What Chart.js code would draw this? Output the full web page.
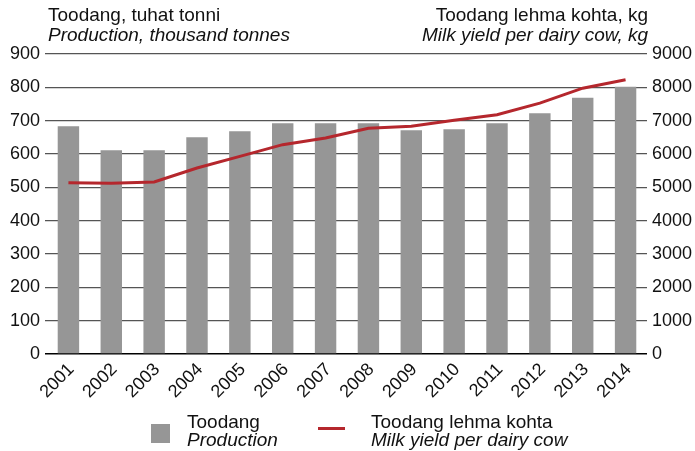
<!DOCTYPE html>
<html><head><meta charset="utf-8">
<script src="https://cdn.jsdelivr.net/npm/chart.js@4/dist/chart.umd.min.js"></script>
<style>
html,body{margin:0;padding:0;background:#fff;}
#wrap{position:relative;width:695px;height:451px;font-family:"Liberation Sans",Arial,sans-serif;color:#111;}
canvas{position:absolute;left:0;top:0;}
.t{position:absolute;font-size:19px;line-height:20px;white-space:nowrap;}
.l{position:absolute;font-size:19px;line-height:18px;white-space:nowrap;}
.i{font-style:italic;}
</style></head>
<body><div id="wrap">
<canvas id="c" width="695" height="451"></canvas>
<div class="t" style="left:48px;top:5px;">Toodang, tuhat tonni<br><span class="i">Production, thousand tonnes</span></div>
<div class="t" style="right:47px;top:5px;text-align:right;">Toodang lehma kohta, kg<br><span class="i">Milk yield per dairy cow, kg</span></div>
<div style="position:absolute;left:151px;top:424px;width:19px;height:19px;background:#969696;"></div>
<div class="l" style="left:187px;top:413px;">Toodang<br><span class="i">Production</span></div>
<div style="position:absolute;left:318px;top:427px;width:27px;height:3px;background:#b5272d;"></div>
<div class="l" style="left:371px;top:413px;">Toodang lehma kohta<br><span class="i">Milk yield per dairy cow</span></div>
</div>
<script>
const years = ["2001","2002","2003","2004","2005","2006","2007","2008","2009","2010","2011","2012","2013","2014"];
const production = [683,611,611,650,668,692,692,692,671,674,692,722,769,802];
const milkYield = [5140,5120,5160,5580,5930,6280,6480,6775,6830,7010,7180,7525,7975,8225];
const leftTicks = [0,100,200,300,400,500,600,700,800,900];
const rightTicks = [0,1000,2000,3000,4000,5000,6000,7000,8000,9000];

const font = {family:"Liberation Sans, Arial, sans-serif", size:18};
new Chart(document.getElementById('c'), {
  data: {
    labels: years,
    datasets: [
      {type:'line', data: milkYield, yAxisID:'y2', borderColor:'#b5272d', borderWidth:3, pointRadius:0, tension:0, order:0},
      {type:'bar', data: production, yAxisID:'y', backgroundColor:'#969696', barPercentage:0.5, categoryPercentage:1, order:1}
    ]
  },
  options: {
    responsive:false, animation:false,
    layout:{padding:{top:54,left:0,right:0,bottom:0}},
    plugins:{legend:{display:false}, tooltip:{enabled:false}},
    scales:{
      x:{
        grid:{display:false},
        border:{display:false},
        ticks:{font:font, color:'#111', minRotation:45, maxRotation:45, padding:-3, labelOffset:3},
        afterFit(s){s.height=97;}
      },
      y:{
        position:'left', min:0, max:900,
        afterBuildTicks(s){s.ticks = leftTicks.map(v=>({value:v}));},
        grid:{color:(c)=>c.tick.value===0?'#000':'#555', lineWidth:(c)=>c.tick.value===0?1.5:1.2, tickLength:2},
        border:{display:false},
        ticks:{font:font, color:'#111', padding:5},
        afterFit(s){s.width=47;}
      },
      y2:{
        position:'right', min:0, max:9000,
        afterBuildTicks(s){s.ticks = rightTicks.map(v=>({value:v}));},
        grid:{drawOnChartArea:false, color:(c)=>c.tick.value===0?'#000':'#555', lineWidth:1.2, tickLength:0},
        border:{display:false},
        ticks:{font:font, color:'#111', padding:5, callback:(v)=>String(v)},
        afterFit(s){s.width=48;}
      }
    }
  }
});
</script>
</body></html>
